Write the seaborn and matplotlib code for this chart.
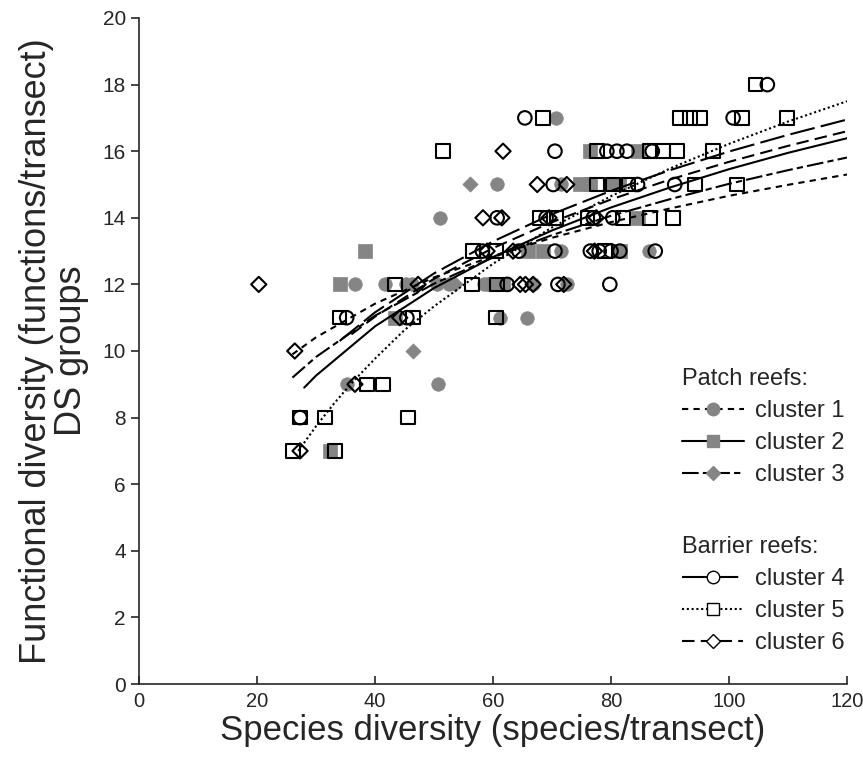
import matplotlib
matplotlib.use("Agg")
import matplotlib.pyplot as plt
from matplotlib.lines import Line2D
import seaborn as sns

# punkty dla klastrow
c1_x = [70.7, 60.7, 71.5, 51.0, 71.5, 86.5, 36.6, 41.7, 45.3, 46.3, 50.5, 52.5, 58.5, 66.8, 72.5, 61.2, 65.8, 35.2, 50.7]
c1_y = [17, 15, 15, 14, 13, 13, 12, 12, 12, 12, 12, 12, 12, 12, 12, 11, 11, 9, 9]

c2_x = [76.4, 84.5, 74.7, 76.5, 80.0, 81.3, 84.5, 38.3, 65.9, 68.5, 81.5, 34.0, 60.0, 61.7, 43.4, 32.4]
c2_y = [16, 16, 15, 15, 15, 15, 14, 13, 13, 13, 13, 12, 12, 12, 11, 7]

c3_x = [56.1, 53.5, 46.4]
c3_y = [15, 12, 10]

c4_x = [106.5, 65.4, 100.7, 70.5, 79.3, 81.0, 82.7, 87.0, 70.2, 84.5, 90.8, 60.7, 69.0, 77.0, 80.3,
        58.2, 64.4, 70.5, 76.5, 78.0, 80.0, 81.5, 87.5, 62.4, 71.0, 79.8, 35.2, 45.4, 27.3]
c4_y = [18, 17, 17, 16, 16, 16, 16, 16, 15, 15, 15, 14, 14, 14, 14,
        13, 13, 13, 13, 13, 13, 13, 13, 12, 12, 12, 11, 11, 8]

c5_x = [104.5, 68.5, 91.7, 93.4, 95.1, 102.2, 109.8, 51.5, 77.6, 86.6, 88.8, 91.2, 97.3,
        77.6, 80.3, 83.0, 94.2, 101.4, 68.0, 70.8, 76.0, 82.0, 86.6, 90.5, 56.6, 60.5, 79.0,
        43.4, 56.4, 60.7, 34.0, 46.4, 60.5, 38.6, 41.4, 27.3, 31.5, 45.6, 26.1, 33.2]
c5_y = [18, 17, 17, 17, 17, 17, 17, 16, 16, 16, 16, 16, 16,
        15, 15, 15, 15, 15, 14, 14, 14, 14, 14, 14, 13, 13, 13,
        12, 12, 12, 11, 11, 11, 9, 9, 8, 8, 8, 7, 7]

c6_x = [61.7, 67.5, 72.5, 58.3, 61.5, 69.5, 77.5, 59.0, 63.4, 77.2, 20.3, 47.3, 64.6, 65.5, 66.8, 72.0,
        44.2, 26.4, 36.6, 27.3]
c6_y = [16, 15, 15, 14, 14, 14, 14, 13, 13, 13, 12, 12, 12, 12, 12, 12,
        11, 10, 9, 7]

# krzywe dopasowania (wartosci odczytane w kilku punktach)
fit1_x = [26, 30, 40, 50, 60, 70, 80, 90, 100, 110, 120]
fit1_y = [9.9, 10.41, 11.42, 12.21, 12.85, 13.40, 13.87, 14.28, 14.66, 14.99, 15.30]
fit2_x = [28, 30, 40, 50, 60, 70, 80, 90, 100, 110, 120]
fit2_y = [8.9, 9.26, 10.74, 11.89, 12.82, 13.62, 14.31, 14.91, 15.46, 15.95, 16.39]
fit3_x = [26, 30, 40, 50, 60, 70, 80, 90, 100, 110, 120]
fit3_y = [9.2, 9.82, 11.06, 12.02, 12.81, 13.48, 14.06, 14.56, 15.02, 15.43, 15.81]
fit4_x = [34, 40, 50, 60, 70, 80, 90, 100, 110, 120]
fit4_y = [10.3, 11.16, 12.33, 13.29, 14.11, 14.81, 15.43, 15.99, 16.49, 16.95]
fit5_x = [27, 30, 33, 36, 40, 45, 50, 60, 70, 80, 90, 100, 110, 120]
fit5_y = [7.0, 7.74, 8.41, 9.03, 9.77, 10.63, 11.34, 12.62, 13.71, 14.65, 15.48, 16.22, 16.89, 17.5]
fit6_x = [36, 40, 50, 60, 70, 80, 90, 100, 110, 120]
fit6_y = [10.5, 11.03, 12.17, 13.09, 13.87, 14.55, 15.15, 15.68, 16.16, 16.60]

cluster_labels = ["cluster 1", "cluster 2", "cluster 3", "cluster 4", "cluster 5", "cluster 6"]

sns.set_style("ticks")
plt.rcParams['font.family'] = ['Liberation Sans', 'DejaVu Sans']

grey = "#858585"
styles = [(0, (3, 2.5)), "-", (0, (8, 2, 3, 2)), (0, (12, 3)), (0, (1, 1.3)), (0, (6, 3))]

fig = plt.figure(figsize=(8.63, 7.62), dpi=100)
ax = fig.add_axes([139 / 863, 78 / 762, 708 / 863, 666 / 762])

points = [(c1_x, c1_y, "o", True), (c2_x, c2_y, "s", True), (c3_x, c3_y, "D", True),
          (c4_x, c4_y, "o", False), (c5_x, c5_y, "s", False), (c6_x, c6_y, "D", False)]
for px, py, m, filled in points:
    if filled:
        sns.scatterplot(x=px, y=py, ax=ax, marker=m, s=95 if m != "D" else 60,
                        color=grey, edgecolor=grey, linewidth=0.5, zorder=2)
    else:
        sns.scatterplot(x=px, y=py, ax=ax, marker=m, s=95 if m != "D" else 60,
                        facecolor="none", edgecolor="black", linewidth=1.5, zorder=3)

fits = [(fit1_x, fit1_y), (fit2_x, fit2_y), (fit3_x, fit3_y),
        (fit4_x, fit4_y), (fit5_x, fit5_y), (fit6_x, fit6_y)]
for (fx, fy), ls in zip(fits, styles):
    sns.lineplot(x=fx, y=fy, ax=ax, color="black", linestyle=ls, linewidth=1.5,
                 estimator=None, zorder=4)

ax.set_xlim(0, 120)
ax.set_ylim(0, 20)
ax.set_xticks(range(0, 121, 20))
ax.set_yticks(range(0, 21, 2))
ax.tick_params(axis="x", direction="in", length=6, width=1.2, labelsize=14.5, pad=6)
ax.tick_params(axis="y", direction="out", length=6, width=1.2, labelsize=15)
for sp in ["left", "bottom"]:
    ax.spines[sp].set_linewidth(1.2)
sns.despine(ax=ax)

ax.set_xlabel("Species diversity (species/transect)", fontsize=25, labelpad=2)
ax.set_ylabel("Functional diversity (functions/transect)\nDS groups", fontsize=26,
              labelpad=10, linespacing=1.0)

# legenda
def handle(i, m, filled):
    if filled:
        return Line2D([0], [0], color="black", linestyle=styles[i], lw=1.5, marker=m,
                      markersize=9 if m != "D" else 7, markerfacecolor=grey, markeredgecolor=grey)
    return Line2D([0], [0], color="black", linestyle=styles[i], lw=1.5, marker=m,
                  markersize=9 if m != "D" else 7, markerfacecolor="white", markeredgecolor="black")

patch_h = [handle(0, "o", True), handle(1, "s", True), handle(2, "D", True)]
barrier_h = [handle(3, "o", False), handle(4, "s", False), handle(5, "D", False)]

leg_kw = dict(loc="upper right", frameon=False, fontsize=17, title_fontsize=17,
              handlelength=2.6, handletextpad=0.5, labelspacing=0.42, borderaxespad=0,
              borderpad=0, alignment="left")
leg1 = ax.legend(patch_h, cluster_labels[:3], title="Patch reefs:",
                 bbox_to_anchor=(0.997, 0.474), **leg_kw)
ax.add_artist(leg1)
ax.legend(barrier_h, cluster_labels[3:], title="Barrier reefs:",
          bbox_to_anchor=(0.997, 0.222), **leg_kw)

fig.savefig("out.png", dpi=100)
